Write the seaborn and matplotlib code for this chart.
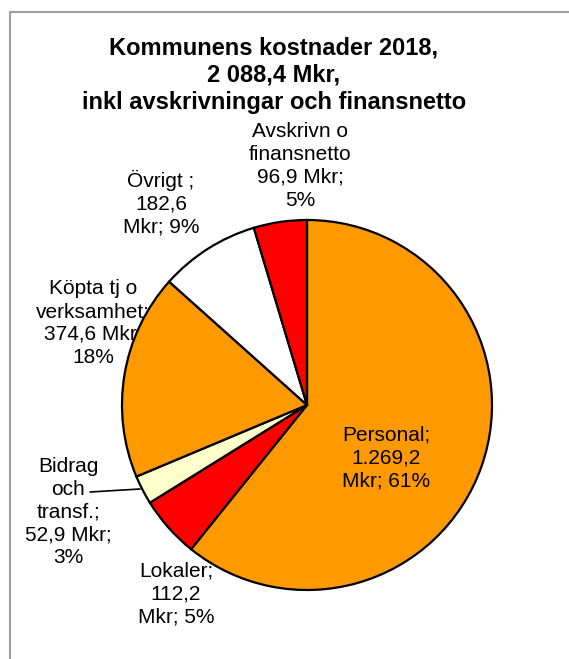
import matplotlib
matplotlib.use("Agg")
import matplotlib.pyplot as plt
import seaborn as sns
from matplotlib.lines import Line2D

sns.set_theme(style="white")
plt.rcParams['font.family'] = ['Liberation Sans', 'DejaVu Sans']

categories = ["Personal", "Lokaler", "Bidrag och transf.", "Köpta tj o verksamhet", "Övrigt", "Avskrivn o finansnetto"]
values = [1269.2, 112.2, 52.9, 374.6, 182.6, 96.9]
colors = ["#FF9900", "#FF0000", "#FFFFCC", "#FF9900", "#FFFFFF", "#FF0000"]
label_texts = [
    "Personal;\n1.269,2\nMkr; 61%",
    "Lokaler;\n112,2\nMkr; 5%",
    "Bidrag\noch\ntransf.;\n52,9 Mkr;\n3%",
    "Köpta tj o\nverksamhet;\n374,6 Mkr;\n18%",
    "Övrigt ;\n182,6\nMkr; 9%",
    "Avskrivn o\nfinansnetto\n96,9 Mkr;\n5%",
]
title = "Kommunens kostnader 2018,\n2 088,4 Mkr,\ninkl avskrivningar och finansnetto"

W, H = 569, 659
fig = plt.figure(figsize=(W / 100, H / 100), dpi=100)
fig.patch.set_facecolor("white")

cx, cy, r = 307, 405, 185
ax = fig.add_axes([(cx - r) / W, (H - cy - r) / H, 2 * r / W, 2 * r / H])
ax.set_zorder(1)
ax.pie(values, colors=colors, startangle=90, counterclock=False,
       wedgeprops=dict(edgecolor="black", linewidth=1.6))
ax.set_xlim(-1.0, 1.0)
ax.set_ylim(-1.0, 1.0)
ax.axis("off")

def px(x, y):
    return x / W, 1 - y / H

# frame lines (top & left)
fig.add_artist(Line2D([10 / W, 1.0], [1 - 12 / H, 1 - 12 / H], color="#a0a0a0", lw=1.5, transform=fig.transFigure))
fig.add_artist(Line2D([10 / W, 10 / W], [1 - 12 / H, 0.0], color="#a0a0a0", lw=1.5, transform=fig.transFigure))

fig.text(*px(274, 75), title, ha="center", va="center", fontsize=17,
         fontweight="bold", linespacing=1.23, color="black")

label_pos = [(386, 458), (176, 594), (68, 512), (93, 323), (161, 203), (300, 166)]
for i, (txt, (x, y)) in enumerate(zip(label_texts, label_pos)):
    if i == 0:
        # label inside the pie: drawn on top of the wedges
        ax.text(*px(x, y), txt, transform=fig.transFigure, ha="center", va="center",
                fontsize=15, linespacing=1.25, color="black", zorder=10)
    else:
        # outside labels sit beneath the wedges
        fig.text(*px(x, y), txt, ha="center", va="center", fontsize=15,
                 linespacing=1.25, color="black", zorder=0)

# leader line for Bidrag
fig.add_artist(Line2D([90 / W, 140 / W], [1 - 492 / H, 1 - 489 / H], color="black", lw=1.2,
                      transform=fig.transFigure, zorder=0))

fig.savefig("out.png", dpi=100, facecolor="white")
